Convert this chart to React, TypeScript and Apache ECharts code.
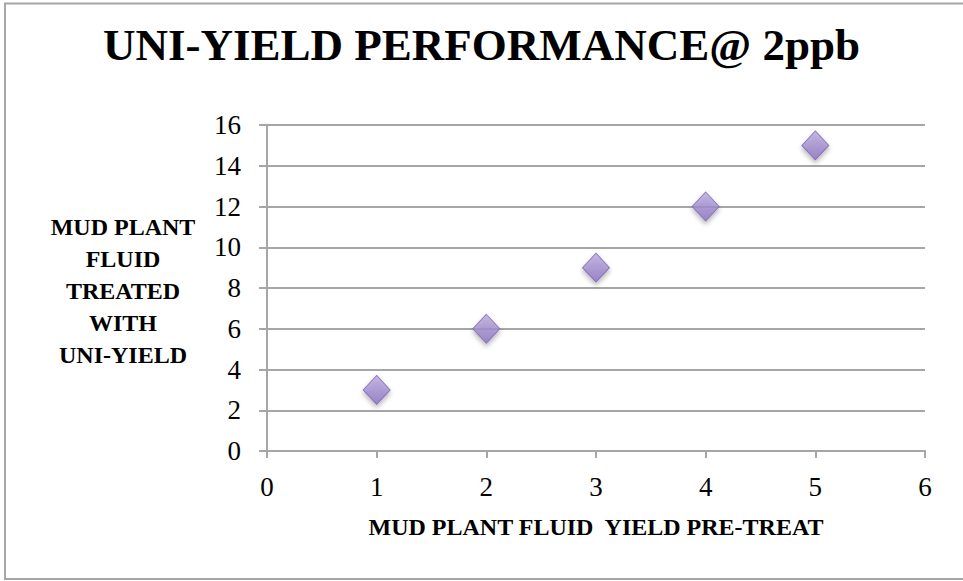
import React, { useEffect, useRef } from "react";
import * as echarts from "echarts";

const titleText = "UNI-YIELD PERFORMANCE@ 2ppb";
const xAxisName = "MUD PLANT FLUID  YIELD PRE-TREAT";
const yAxisName = "MUD PLANT\nFLUID\nTREATED\nWITH\nUNI-YIELD";
const xValues = [1, 2, 3, 4, 5];
const yValues = [3, 6, 9, 12, 15];

const SERIF = "Liberation Serif";

export default function App() {
  const ref = useRef<HTMLDivElement>(null);
  useEffect(() => {
    document.body.style.margin = "0";
    if (!ref.current) return;
    const chart = echarts.init(ref.current, null, { renderer: "svg" });
    chart.setOption({
      animation: false,
      backgroundColor: "#ffffff",
      textStyle: { fontFamily: SERIF, color: "#000000" },
      title: {
        text: titleText,
        left: "center",
        top: 17,
        textStyle: {
          fontFamily: SERIF,
          fontWeight: "bold",
          fontSize: 45,
          color: "#000000",
        },
      },
      graphic: [
        {
          type: "rect",
          shape: { x: 5, y: 3.5, width: 970, height: 575.5 },
          style: { fill: "none", stroke: "#A6A6A6", lineWidth: 2 },
          silent: true,
          z: 0,
        },
        {
          type: "text",
          x: 123,
          y: 291,
          style: {
            text: yAxisName,
            fontFamily: SERIF,
            fontWeight: "bold",
            fontSize: 24,
            lineHeight: 32,
            fill: "#000000",
            textAlign: "center",
            textVerticalAlign: "middle",
          },
        },
      ],
      grid: { left: 267, right: 38, top: 125, bottom: 130 },
      xAxis: {
        type: "value",
        min: 0,
        max: 6,
        interval: 1,
        name: xAxisName,
        nameLocation: "middle",
        nameGap: 64,
        nameTextStyle: {
          fontFamily: SERIF,
          fontWeight: "bold",
          fontSize: 24,
          color: "#000000",
        },
        axisLine: { show: true, lineStyle: { color: "#A6A6A6", width: 2 } },
        axisTick: { show: true, length: 7, lineStyle: { color: "#A6A6A6", width: 2 } },
        axisLabel: {
          show: true,
          margin: 22,
          fontFamily: SERIF,
          fontSize: 27,
          color: "#000000",
        },
        splitLine: { show: false },
      },
      yAxis: {
        type: "value",
        min: 0,
        max: 16,
        interval: 2,
        axisLine: { show: true, lineStyle: { color: "#A6A6A6", width: 2 } },
        axisTick: { show: true, length: 8, lineStyle: { color: "#A6A6A6", width: 2 } },
        axisLabel: {
          show: true,
          margin: 26,
          fontFamily: SERIF,
          fontSize: 27,
          color: "#000000",
        },
        splitLine: { show: true, lineStyle: { color: "#A6A6A6", width: 2 } },
      },
      series: [
        {
          type: "scatter",
          data: xValues.map((x, i) => [x, yValues[i]]),
          symbol: "diamond",
          symbolSize: [27, 29],
          itemStyle: {
            color: new echarts.graphic.LinearGradient(0, 0, 0, 1, [
              { offset: 0, color: "#BBAADF" },
              { offset: 1, color: "#8A73C2" },
            ]),
            borderColor: "#7C64B2",
            borderWidth: 1,
            shadowColor: "rgba(0,0,0,0.35)",
            shadowBlur: 5,
            shadowOffsetY: 3,
          },
        },
      ],
    });
    return () => chart.dispose();
  }, []);
  return <div ref={ref} style={{ width: 963, height: 581 }} />;
}
